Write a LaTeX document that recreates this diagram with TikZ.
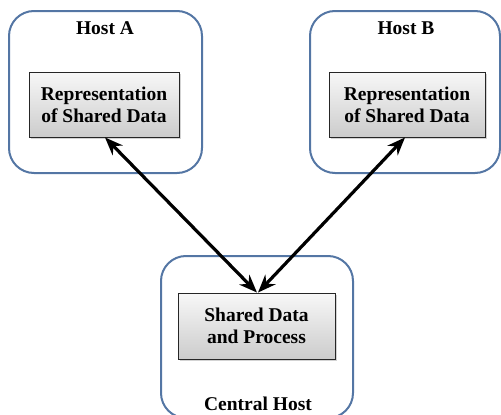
\documentclass[tikz,border=0pt]{standalone}
\usepackage{fontspec}
\setmainfont{Liberation Serif}
\usetikzlibrary{arrows.meta,shadows}
\definecolor{hostblue}{RGB}{84,118,164}

\begin{document}
\begin{tikzpicture}[x=1pt,y=-1pt,
    host/.style={draw=hostblue,line width=2pt,rounded corners=25pt,inner sep=0pt},
    datablock/.style={draw=black!85,line width=0.9pt,top color=gray!6,bottom color=gray!40,
      drop shadow={shadow xshift=2pt,shadow yshift=-2pt,opacity=0.35},
      align=center,inner sep=0pt,minimum height=65pt},
    title/.style={font=\fontsize{19.5}{22}\selectfont\bfseries},
    link/.style={{Stealth[length=18pt,width=14pt]}-{Stealth[length=18pt,width=14pt]},line width=3.2pt}]
  \useasboundingbox (0,0) rectangle (501,415);

  \node[host,minimum width=193pt,minimum height=162pt] (hostA) at (105.5,92) {};
  \node[host,minimum width=190pt,minimum height=162pt] (hostB) at (405,92) {};
  \node[host,minimum width=192pt,minimum height=162pt] (central) at (257,337) {};

  \node[title] (labelA) at (105,28) {Host A};
  \node[title] (labelB) at (406,28) {Host B};
  \node[title] (labelC) at (258,404) {Central Host};

  \node[datablock,title,minimum width=150pt] (repA) at (104,104.5) {Representation\\of Shared Data};
  \node[datablock,title,minimum width=156pt] (repB) at (407,104.5) {Representation\\of Shared Data};
  \node[datablock,title,minimum width=157pt,minimum height=66pt] (shared) at (256.5,326) {Shared Data\\and Process};

  \draw[link] ([xshift=1pt]repA.south) -- ([xshift=0.5pt]shared.north);
  \draw[link] ([xshift=-2pt]repB.south) -- ([xshift=1.5pt]shared.north);
\end{tikzpicture}
\end{document}
